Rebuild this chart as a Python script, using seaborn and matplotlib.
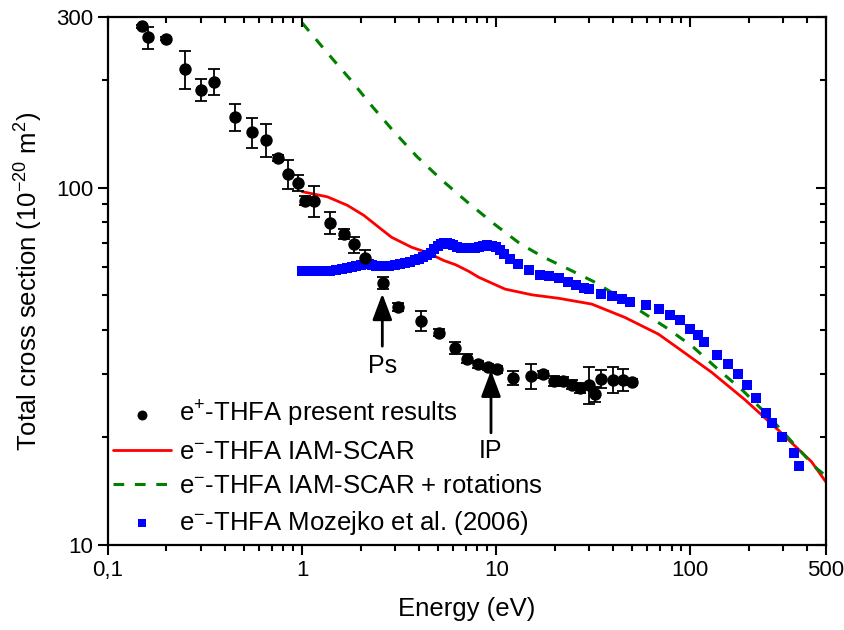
"""Total cross section of THFA: positron measurement vs electron calculations."""

import matplotlib
matplotlib.use("Agg")
import matplotlib.pyplot as plt
import matplotlib.ticker as mticker
import numpy as np
import pandas as pd
import seaborn as sns

# e+ THFA present results (energy eV, cross section 1e-20 m^2, error %)
POS_E = [0.15, 0.16, 0.20, 0.25, 0.30, 0.35, 0.45, 0.55, 0.65, 0.75, 0.85, 0.95,
         1.04, 1.15, 1.39, 1.64, 1.84, 2.12, 2.61, 3.13, 4.12, 5.1, 6.1, 7.1,
         8.06, 9.04, 10.1, 12.2, 15.1, 17.5, 19.8, 22.2, 24.5, 27.1, 29.9, 32.4,
         34.7, 39.8, 45.2, 50.3]
POS_TCS = [283, 263, 261, 215, 188, 198, 158, 143, 136, 121, 109, 103,
           92, 92, 79.7, 74.3, 69.3, 63.6, 54.1, 46.4, 42.4, 39.3, 35.6, 33.2,
           32.0, 31.5, 31.0, 29.4, 29.7, 30.0, 28.8, 28.7, 28.1, 27.5, 28.1, 26.4,
           29.1, 29.0, 29.0, 28.6]
POS_ERR_PCT = [1, 7, 1, 12, 7, 8.6, 8.6, 9.7, 10.4, 2, 9.3, 5.3,
               3, 10, 7.2, 3.3, 5.2, 5, 4, 2.7, 6.5, 2, 3.8, 3,
               2, 2, 2, 4.4, 7.9, 2, 3, 3, 3, 3, 12, 5,
               5.8, 8.3, 7, 2]

# e- THFA IAM-SCAR
SCAR_E = [1.0, 1.35, 1.71, 2.08, 2.54, 2.89, 3.66, 4.44, 5.37, 6.19, 7.22, 8.13,
          11.1, 15.3, 21.0, 31.1, 46.1, 68.5, 86.8, 129, 191, 283, 421, 500]
SCAR_TCS = [97.4, 94.2, 89.2, 83.6, 76.7, 72.6, 68.1, 65.7, 62.5, 60.8, 58.3, 56.1,
            52.0, 50.1, 49.0, 47.2, 43.3, 38.9, 35.5, 30.4, 25.5, 21.0, 17.1, 15.0]

# e- THFA IAM-SCAR + rotations
ROT_E = [1.0, 1.35, 1.78, 2.30, 2.97, 3.91, 5.26, 7.08, 9.70, 13.3, 17.5, 23.6,
         31.7, 42.6, 57.3, 77.1, 104, 139, 187, 252, 332, 446, 500]
ROT_TCS = [289, 238, 200, 168.5, 143.4, 122, 104.8, 91.2, 79.3, 69.6, 63.9, 59.1,
           54.6, 49.6, 44.6, 40.2, 35.7, 31.0, 27.0, 23.0, 19.5, 16.4, 15.6]

# e- THFA Mozejko et al. (2006)
MOZ_E = [1.0, 1.1, 1.2, 1.3, 1.4, 1.5, 1.6, 1.7, 1.8, 1.9, 2.0, 2.1, 2.2, 2.3,
         2.4, 2.5, 2.6, 2.8, 3.0, 3.2, 3.4, 3.6, 3.8, 4.0, 4.2, 4.4, 4.6, 4.8,
         5.0, 5.2, 5.4, 5.6, 5.8, 6.0, 6.3, 6.6, 7.0, 7.4, 7.8, 8.2, 8.6, 9.0,
         9.5, 10.0, 10.5, 11.0, 11.8, 12.9, 14.8, 16.9, 18.8, 21.0, 23.4, 25.7,
         28.5, 29.9, 34.7, 39.4, 44.5, 49.1, 59.0, 69.3, 78.9, 88.6, 99.1, 109,
         118, 138, 157, 177, 197, 218, 245, 265, 295, 343, 362]
MOZ_TCS = [58.6, 58.5, 58.4, 58.3, 58.5, 58.7, 59.1, 59.6, 60.1, 60.5, 60.9, 61.2,
           61.1, 60.8, 60.5, 60.3, 60.3, 60.4, 60.6, 61.0, 61.4, 62.0, 62.6, 63.3,
           64.0, 64.7, 65.8, 67.4, 68.6, 69.5, 69.9, 69.8, 69.4, 68.9, 68.3, 67.9,
           67.7, 67.7, 67.8, 68.2, 68.7, 69.0, 68.8, 68.2, 67.0, 65.3, 63.3, 61.3,
           58.7, 57.0, 56.7, 55.8, 54.6, 53.4, 52.4, 52.0, 50.4, 49.6, 48.7, 47.9,
           46.8, 45.6, 44.0, 42.5, 40.3, 38.6, 37.0, 34.1, 32.1, 30.0, 28.1, 25.8,
           23.4, 21.9, 20.1, 18.1, 16.6]

# arrow annotations: (label, energy, tip, tail, text y)
ANNOTATIONS = [("Ps", 2.59, 50.5, 36.0, 31.7), ("IP", 9.40, 30.8, 20.6, 18.3)]

X_TICKS = [0.1, 1, 10, 100, 500]
X_TICK_LABELS = ["0,1", "1", "10", "100", "500"]
Y_TICKS = [10, 100, 300]

sns.set_theme(style="ticks")
plt.rcParams["font.family"] = ["Liberation Sans", "DejaVu Sans"]
plt.rcParams["mathtext.default"] = "regular"
plt.rcParams.update({"text.color": "black", "axes.labelcolor": "black",
                     "xtick.color": "black", "ytick.color": "black",
                     "axes.edgecolor": "black"})

pos = pd.DataFrame({"E": POS_E, "tcs": POS_TCS})
pos["err"] = pos["tcs"] * np.array(POS_ERR_PCT) / 100
scar = pd.DataFrame({"E": SCAR_E, "tcs": SCAR_TCS})
rot = pd.DataFrame({"E": ROT_E, "tcs": ROT_TCS})
moz = pd.DataFrame({"E": MOZ_E, "tcs": MOZ_TCS})

fig = plt.figure(figsize=(8.45, 6.3), dpi=100)
ax = fig.add_axes([0.1278, 0.1349, 0.8497, 0.8381])

ax.errorbar(pos["E"], pos["tcs"], yerr=pos["err"], fmt="none", ecolor="black",
            elinewidth=1.3, capsize=4.5, capthick=1.3, zorder=3)
sns.scatterplot(data=pos, x="E", y="tcs", ax=ax, color="black", marker="o", s=80,
                edgecolor="black", linewidth=0, label="e$^{+}$-THFA present results", zorder=4)
sns.lineplot(data=scar, x="E", y="tcs", ax=ax, color="#ff0000", lw=2,
             label="e$^{-}$-THFA IAM-SCAR", zorder=2)
sns.lineplot(data=rot, x="E", y="tcs", ax=ax, color="#008000", lw=2.2,
             dashes=(3.5, 3.5), label="e$^{-}$-THFA IAM-SCAR + rotations", zorder=2)
sns.scatterplot(data=moz, x="E", y="tcs", ax=ax, color="#0000ff", marker="s", s=55,
                edgecolor="#0000ff", linewidth=0, label="e$^{-}$-THFA Mozejko et al. (2006)", zorder=3)

ax.set_xscale("log")
ax.set_yscale("log")
ax.set_xlim(0.1, 500)
ax.set_ylim(10, 300)
ax.set_xticks(X_TICKS)
ax.set_xticklabels(X_TICK_LABELS)
ax.set_yticks(Y_TICKS)
ax.set_yticklabels([str(t) for t in Y_TICKS])
ax.xaxis.set_minor_formatter(mticker.NullFormatter())
ax.yaxis.set_minor_formatter(mticker.NullFormatter())
ax.tick_params(which="both", direction="out", width=1.5, labelsize=16)
ax.tick_params(which="major", length=7)
ax.tick_params(which="minor", length=4.5)
ax.set_xlabel("Energy (eV)", fontsize=18.5, labelpad=12)
ax.set_ylabel("Total cross section (10$^{-20}$ m$^{2}$)", fontsize=18.5, labelpad=8)

# mirrored inward ticks on top and right
for twin, axis in ((ax.twiny(), "x"), (ax.twinx(), "y")):
    if axis == "x":
        twin.set_xscale("log")
        twin.set_xlim(ax.get_xlim())
        twin.set_xticks(X_TICKS[:-1])
        twin.xaxis.set_major_formatter(mticker.NullFormatter())
        twin.xaxis.set_minor_formatter(mticker.NullFormatter())
    else:
        twin.set_yscale("log")
        twin.set_ylim(ax.get_ylim())
        twin.set_yticks(Y_TICKS)
        twin.yaxis.set_major_formatter(mticker.NullFormatter())
        twin.yaxis.set_minor_formatter(mticker.NullFormatter())
    twin.tick_params(which="both", direction="in", width=1.5)
    twin.tick_params(which="major", length=7)
    twin.tick_params(which="minor", length=4.5)

for spine in ax.spines.values():
    spine.set_linewidth(1.6)

for label, e, tip, tail, ty in ANNOTATIONS:
    ax.annotate("", xy=(e, tip), xytext=(e, tail),
                arrowprops=dict(arrowstyle="-|>,head_length=0.8,head_width=0.3",
                                mutation_scale=20, color="black", lw=2,
                                shrinkA=0, shrinkB=0))
    ax.text(e, ty, label, ha="center", va="center", fontsize=18)

ax.legend(loc="lower left", bbox_to_anchor=(0.0, 0.005), frameon=False, fontsize=18.5,
          handlelength=2.25, handletextpad=0.3, labelspacing=0.42, borderpad=0.2,
          borderaxespad=0, markerscale=0.8)

fig.savefig("out.png", dpi=100)
